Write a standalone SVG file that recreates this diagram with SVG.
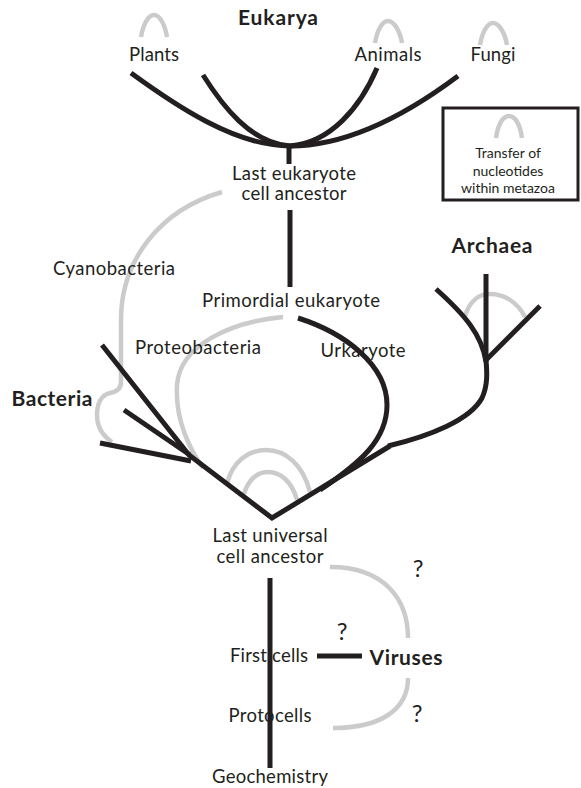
<svg xmlns="http://www.w3.org/2000/svg" width="581" height="788" viewBox="0 0 581 788">
<style>
.t{font-family:Lato,"Liberation Sans",sans-serif;font-size:18.5px;fill:#231f20;text-anchor:middle}
.b{font-weight:bold;font-size:21px}
.s{font-size:14px}
.q{font-size:24px}
.k{fill:none;stroke:#231f20;stroke-width:5;stroke-linecap:butt}
.g{fill:none;stroke:#cbcbcb;stroke-width:4.5;stroke-linecap:butt}
</style>
<rect width="581" height="788" fill="#fff"/>
<g id="connectors-gray">
<path class="g" d="M141,37 C143,25 148,15 154,15 C160,15 165,25 167,37"/>
<path class="g" d="M375,43 C377,31 382,21 388,21 C394,21 400,31 402,43"/>
<path class="g" d="M480,45 C482,33 487,23 493,23 C499,23 505,33 507,45"/>
<path class="g" d="M222,192 C160,210 121,260 121,320 L121,382 C121,389 116,392 110,393 C101,395 97,404 97,415 C97,428 103,436 112,442"/>
<path class="g" d="M283,317 C230,322 180,345 177,385 C175,420 190,450 203,468"/>
<path class="g" d="M227,484 C232,462 248,450 266,450 C286,450 303,465 310,492"/>
<path class="g" d="M244,494 C248,480 257,472 268,472 C281,472 292,482 297,500"/>
<path class="g" d="M465,316 C470,300 480,294 490,294 C505,294 518,303 525,317"/>
<path class="g" d="M330,567 C385,567 408,600 408,638"/>
<path class="g" d="M408,678 C408,710 380,728 333,728"/>
</g>
<g id="eukarya"><text class="t b" x="278" y="25" textLength="80">Eukarya</text></g>
<g id="plants"><text class="t" x="154" y="61" textLength="50">Plants</text></g>
<g id="animals"><text class="t" x="388" y="61" textLength="67">Animals</text></g>
<g id="fungi"><text class="t" x="493" y="61" textLength="45">Fungi</text></g>
<g id="legend">
<rect x="443" y="108" width="135" height="92" fill="none" stroke="#231f20" stroke-width="3"/>
<path class="g" d="M496,138 C498,124 503,116 509,116 C515,116 520,124 522,138"/>
<text class="t s" x="508" y="158">Transfer of</text>
<text class="t s" x="508" y="176">nucleotides</text>
<text class="t s" x="508" y="193">within metazoa</text>
</g>
<g id="last-eukaryote"><text class="t" x="294" y="180" textLength="124">Last eukaryote</text><text class="t" x="294" y="200" textLength="105">cell ancestor</text></g>
<g id="cyanobacteria"><text class="t" x="114" y="275" textLength="122">Cyanobacteria</text></g>
<g id="primordial"><text class="t" x="291" y="307" textLength="178">Primordial eukaryote</text></g>
<g id="archaea"><text class="t b" x="492" y="253" textLength="81">Archaea</text></g>
<g id="proteobacteria"><text class="t" x="198" y="354" textLength="126">Proteobacteria</text></g>
<g id="urkaryote"><text class="t" x="363" y="357" textLength="85">Urkaryote</text></g>
<g id="bacteria"><text class="t b" x="52" y="406" textLength="81">Bacteria</text></g>
<g id="luca"><text class="t" x="270" y="542" textLength="115">Last universal</text><text class="t" x="270" y="563" textLength="107">cell ancestor</text></g>
<g id="first-cells"><text class="t" x="269" y="662" textLength="78">First cells</text></g>
<g id="viruses"><text class="t b" x="406" y="665" textLength="73">Viruses</text></g>
<g id="protocells"><text class="t" x="270" y="722" textLength="83">Protocells</text></g>
<g id="geochemistry"><text class="t" x="270" y="783" textLength="116">Geochemistry</text></g>
<g id="questions">
<text class="t q" x="418" y="577">?</text>
<text class="t q" x="342" y="640">?</text>
<text class="t q" x="417" y="722">?</text>
</g>
<g id="connectors">
<path class="k" d="M131,73 C175,105 235,146 290,146"/>
<path class="k" d="M203,75 C222,105 250,143 290,146"/>
<path class="k" d="M377,68 C360,108 330,143 290,146"/>
<path class="k" d="M458,76 C410,112 350,146 290,146"/>
<path class="k" d="M289,145 L289,164"/>
<path class="k" d="M290,210 L290,287" stroke-width="6"/>
<path class="k" d="M102,345 L189,455 L272,518 L390,446"/>
<path class="k" d="M124,410 L190,455"/>
<path class="k" d="M100,443 L191,461"/>
<path class="k" d="M298,318 C345,333 387,365 387,405 C387,440 360,463 320,490"/>
<path class="k" d="M388,446 C430,436 470,420 482,398 C488,385 487,372 486,360 L486,274"/>
<path class="k" d="M436,289 C465,315 482,335 486,362"/>
<path class="k" d="M540,306 L486,360"/>
<path class="k" d="M270,578 L270,768"/>
<path class="k" d="M317,656 L362,656"/>
</g>
</svg>
